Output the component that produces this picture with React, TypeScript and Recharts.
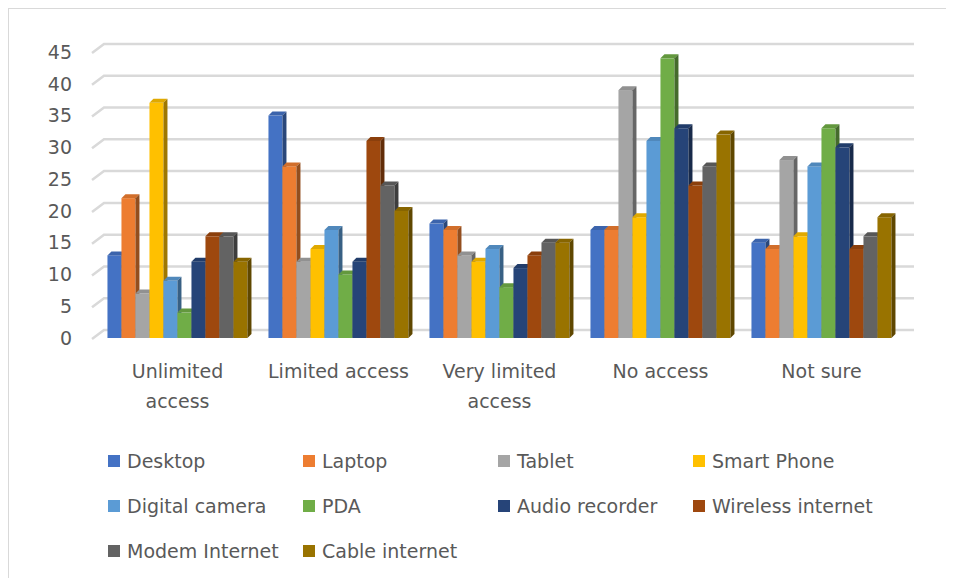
import React from "react";
import {
  BarChart,
  Bar,
  XAxis,
  YAxis,
  CartesianGrid,
  Legend,
} from "recharts";

// categories along the x axis
const CATEGORIES = ["Unlimited access", "Limited access", "Very limited access", "No access", "Not sure"];

// one list per device, same order as CATEGORIES
const DESKTOP = [13, 35, 18, 17, 15];
const LAPTOP = [22, 27, 17, 17, 14];
const TABLET = [7, 12, 13, 39, 28];
const SMART_PHONE = [37, 14, 12, 19, 16];
const DIGITAL_CAMERA = [9, 17, 14, 31, 27];
const PDA = [4, 10, 8, 44, 33];
const AUDIO_RECORDER = [12, 12, 11, 33, 30];
const WIRELESS_INTERNET = [16, 31, 13, 24, 14];
const MODEM_INTERNET = [16, 24, 15, 27, 16];
const CABLE_INTERNET = [12, 20, 15, 32, 19];

const Y_TICKS = [0, 5, 10, 15, 20, 25, 30, 35, 40, 45];

const SERIES = [
  { key: "desktop", name: "Desktop", values: DESKTOP, color: "#4472C4" },
  { key: "laptop", name: "Laptop", values: LAPTOP, color: "#ED7D31" },
  { key: "tablet", name: "Tablet", values: TABLET, color: "#A5A5A5" },
  { key: "smartPhone", name: "Smart Phone", values: SMART_PHONE, color: "#FFC000" },
  { key: "digitalCamera", name: "Digital camera", values: DIGITAL_CAMERA, color: "#5B9BD5" },
  { key: "pda", name: "PDA", values: PDA, color: "#70AD47" },
  { key: "audioRecorder", name: "Audio recorder", values: AUDIO_RECORDER, color: "#264478" },
  { key: "wireless", name: "Wireless internet", values: WIRELESS_INTERNET, color: "#9E480E" },
  { key: "modem", name: "Modem Internet", values: MODEM_INTERNET, color: "#636363" },
  { key: "cable", name: "Cable internet", values: CABLE_INTERNET, color: "#997300" },
];

const data = CATEGORIES.map((category, i) => {
  const row: Record<string, any> = { category };
  SERIES.forEach((s) => {
    row[s.key] = s.values[i];
  });
  return row;
});

const FONT = "'DejaVu Sans', sans-serif";
const TEXT_COLOR = "#595959";
const FONT_SIZE = 19;

// darken a hex colour by a factor
const shade = (hex: string, f: number) => {
  const n = parseInt(hex.slice(1), 16);
  const r = Math.round(((n >> 16) & 255) * f);
  const g = Math.round(((n >> 8) & 255) * f);
  const b = Math.round((n & 255) * f);
  return `rgb(${r},${g},${b})`;
};

// greedy word wrap measured with a canvas
let ctx: CanvasRenderingContext2D | null = null;
const wrap = (label: string, maxWidth: number) => {
  if (!ctx) {
    ctx = document.createElement("canvas").getContext("2d");
    if (ctx) ctx.font = `${FONT_SIZE}px 'DejaVu Sans'`;
  }
  const words = label.split(" ");
  const lines: string[] = [];
  let cur = "";
  words.forEach((w) => {
    const next = cur ? `${cur} ${w}` : w;
    const width = ctx ? ctx.measureText(next).width : next.length * 10;
    if (cur && width > maxWidth) {
      lines.push(cur);
      cur = w;
    } else {
      cur = next;
    }
  });
  if (cur) lines.push(cur);
  return lines;
};

// fake 3D column: front face, top face and right side face
const Bar3D = (props: any) => {
  const { x, y, width, height, fill } = props;
  if (!height || height <= 0) return null;
  const dx = 4;
  const dy = 4;
  return (
    <g>
      <rect x={x} y={y} width={width} height={height} fill={fill} />
      <path
        d={`M${x},${y}L${x + dx},${y - dy}L${x + width + dx},${y - dy}L${x + width},${y}Z`}
        fill={shade(fill, 0.88)}
      />
      <path
        d={`M${x + width},${y}L${x + width + dx},${y - dy}L${x + width + dx},${y + height - dy}L${x + width},${y + height}Z`}
        fill={shade(fill, 0.62)}
      />
    </g>
  );
};

// back-wall gridline with the little perspective slant on the left
const GridLine3D = (props: any) => {
  const { x1, y1, x2, key } = props;
  return (
    <path
      key={key}
      d={`M${x1 - 5},${y1 + 1}L${x1 + 7},${y1 - 8}L${x2 + 12},${y1 - 8}`}
      stroke="#d9d9d9"
      strokeWidth={2.5}
      fill="none"
    />
  );
};

const CategoryTick = (props: any) => {
  const { x, y, payload } = props;
  const lines = wrap(String(payload.value), 150);
  return (
    <text
      x={x}
      y={y + 40}
      textAnchor="middle"
      fill={TEXT_COLOR}
      fontSize={FONT_SIZE}
      fontFamily={FONT}
    >
      {lines.map((line, i) => (
        <tspan key={i} x={x} dy={i === 0 ? 0 : 30}>
          {line}
        </tspan>
      ))}
    </text>
  );
};

const LegendContent = () => (
  <div
    style={{
      display: "grid",
      gridTemplateColumns: "repeat(4, 195px)",
      gridAutoRows: "45px",
      paddingLeft: 99,
      fontFamily: FONT,
      fontSize: FONT_SIZE,
      color: TEXT_COLOR,
    }}
  >
    {SERIES.map((s) => (
      <div key={s.key} style={{ display: "flex", alignItems: "center", whiteSpace: "nowrap" }}>
        <span style={{ width: 12, height: 12, background: s.color, marginRight: 7, flexShrink: 0 }} />
        <span>{s.name}</span>
      </div>
    ))}
  </div>
);

export default function App() {
  return (
    <div
      style={{
        position: "relative",
        width: 946,
        height: 570,
        borderTop: "1px solid #d9d9d9",
        borderLeft: "1px solid #d9d9d9",
        boxSizing: "border-box",
        background: "#fff",
        fontFamily: FONT,
      }}
    >
      <BarChart
        width={945}
        height={569}
        data={data}
        margin={{ top: 43, right: 52, left: 0, bottom: 48 }}
        barCategoryGap="6.5%"
        barGap={0}
      >
        <CartesianGrid vertical={false} horizontal={GridLine3D} />
        <XAxis
          dataKey="category"
          axisLine={false}
          tickLine={false}
          tickSize={0}
          tickMargin={0}
          height={60}
          interval={0}
          tick={<CategoryTick />}
        />
        <YAxis
          domain={[0, 45]}
          ticks={Y_TICKS}
          width={88}
          axisLine={false}
          tickLine={false}
          tickSize={0}
          tickMargin={25}
          tick={{ fill: TEXT_COLOR, fontSize: FONT_SIZE, fontFamily: FONT }}
        />
        <Legend
          content={<LegendContent />}
          wrapperStyle={{ position: "absolute", top: 429, left: 0, bottom: "auto", width: 945, height: 132 }}
        />
        {SERIES.map((s) => (
          <Bar
            key={s.key}
            dataKey={s.key}
            name={s.name}
            fill={s.color}
            shape={<Bar3D />}
            isAnimationActive={false}
          />
        ))}
      </BarChart>
    </div>
  );
}
